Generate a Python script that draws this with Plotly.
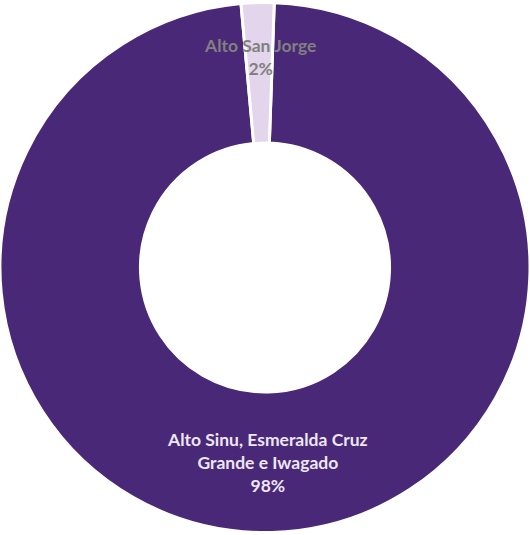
import plotly.graph_objects as go

labels = ["Alto Sinu, Esmeralda Cruz Grande e Iwagado", "Alto San Jorge"]
values = [98, 2]
colors = ["#4A2878", "#E3D5EC"]

fig = go.Figure(go.Pie(
    labels=labels, values=values, hole=0.47, sort=False,
    direction="clockwise", rotation=2,
    marker=dict(colors=colors, line=dict(color="white", width=3)),
    textinfo="none", hoverinfo="label+percent", showlegend=False,
))

fig.add_annotation(x=0.505, y=0.136, xref="paper", yref="paper",
                   xanchor="center", yanchor="middle",
                   text="<b>Alto Sinu, Esmeralda Cruz<br>Grande e Iwagado<br>98%</b>",
                   showarrow=False, font=dict(family="Lato", size=17.5, color="#EDE6F3"))
fig.add_annotation(x=0.49, y=0.893, xref="paper", yref="paper",
                   xanchor="center", yanchor="middle",
                   text="<b>Alto San Jorge<br>2%</b>",
                   showarrow=False, font=dict(family="Lato", size=17.5, color="#808080"))

fig.update_layout(width=530, height=535, margin=dict(l=0, r=0, t=0, b=0),
                  paper_bgcolor="white", plot_bgcolor="white")
fig.write_html("out.html", config={"displayModeBar": False},
               post_script="document.body.style.margin='0';")
